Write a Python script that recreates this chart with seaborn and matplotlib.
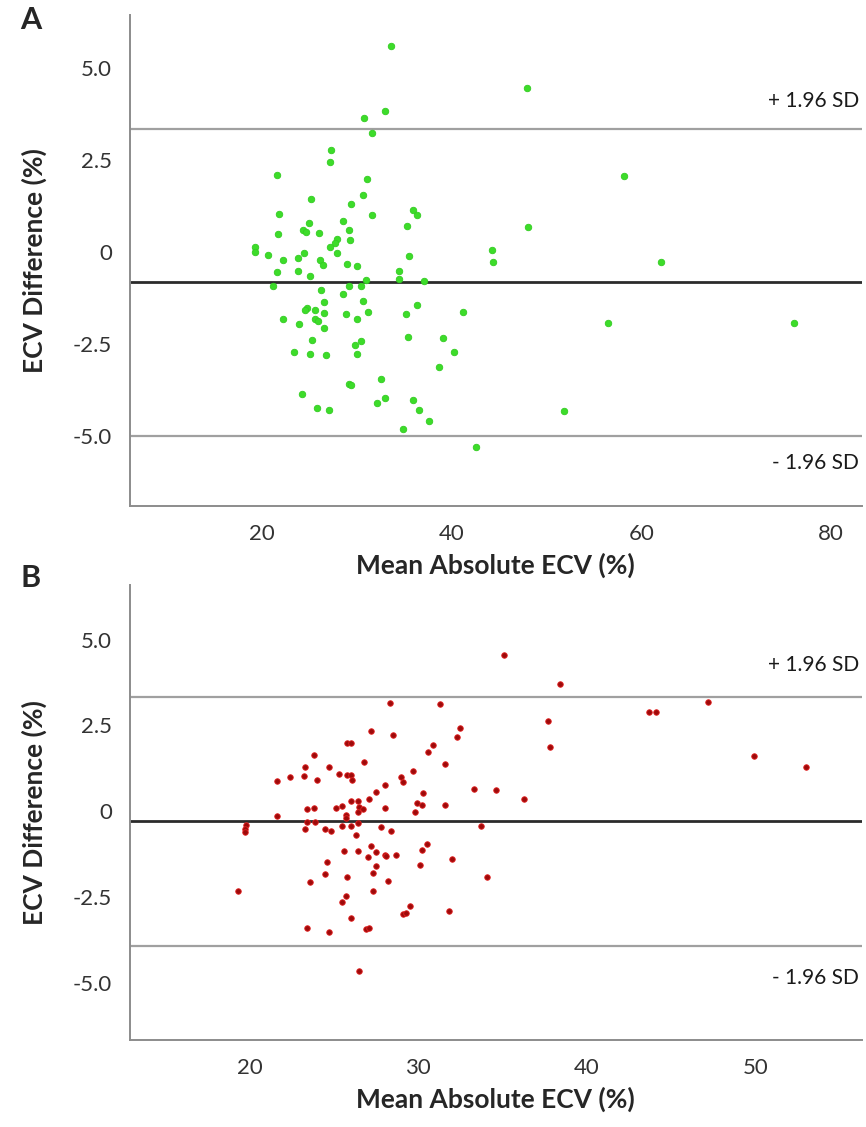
import matplotlib
matplotlib.use("Agg")
import matplotlib.pyplot as plt
import seaborn as sns
import pandas as pd

# Panel A: mean absolute ECV (%) vs ECV difference (%)
a_mean = [33.6, 47.9, 30.8, 33.0, 31.6, 27.3, 27.2, 21.6, 31.1, 58.2, 30.7, 25.2,
          29.4, 31.6, 21.8, 35.9, 36.3, 35.3, 48.0, 25.0, 24.3, 24.7, 26.0, 21.7,
          28.6, 29.2, 29.3, 27.9, 27.7, 27.2, 19.3, 19.3, 20.6, 24.4, 27.9, 35.5,
          44.2, 44.4, 62.1, 22.2, 23.8, 26.1, 26.4, 29.0, 30.0, 21.6, 23.8, 25.1,
          34.4, 34.4, 31.0, 37.1, 21.2, 26.2, 29.2, 30.4, 28.6, 30.7, 26.5, 31.2,
          35.2, 36.3, 24.8, 24.6, 25.6, 26.5, 28.9, 41.2, 22.2, 25.6, 25.9, 30.0,
          23.9, 26.6, 56.5, 76.1, 35.4, 25.3, 30.4, 29.8, 39.1, 23.4, 25.1, 26.8,
          30.0, 40.3, 38.7, 29.2, 29.4, 32.6, 24.2, 25.8, 27.1, 32.1, 33.0, 35.9,
          36.6, 34.9, 37.6, 51.8, 42.6]
a_diff = [5.59, 4.47, 3.64, 3.82, 3.24, 2.78, 2.44, 2.10, 1.99, 2.07, 1.56, 1.44,
          1.31, 1.02, 1.04, 1.13, 1.01, 0.72, 0.68, 0.79, 0.60, 0.54, 0.52, 0.49,
          0.85, 0.60, 0.34, 0.35, 0.25, 0.13, 0.14, 0.01, -0.08, -0.03, -0.03, -0.10,
          0.05, -0.27, -0.27, -0.21, -0.17, -0.21, -0.35, -0.33, -0.37, -0.55, -0.51, -0.65,
          -0.51, -0.74, -0.75, -0.78, -0.92, -1.03, -0.93, -0.93, -1.14, -1.34, -1.37, -1.62,
          -1.69, -1.44, -1.51, -1.57, -1.57, -1.66, -1.67, -1.63, -1.83, -1.81, -1.87, -1.83,
          -1.96, -2.05, -1.93, -1.93, -2.32, -2.39, -2.42, -2.53, -2.34, -2.72, -2.78, -2.81,
          -2.78, -2.72, -3.13, -3.58, -3.60, -3.46, -3.87, -4.25, -4.28, -4.11, -3.96, -4.02,
          -4.30, -4.80, -4.60, -4.33, -5.29]
a_bias, a_upper, a_lower = -0.82, 3.35, -4.99

# Panel B
b_mean = [27.2, 25.8, 26.0, 23.8, 26.8, 23.3, 24.7, 21.6, 22.4, 23.2, 24.0, 25.3,
          25.8, 26.0, 26.1, 27.5, 27.1, 26.0, 26.4, 26.5, 26.7, 26.4, 25.5, 25.1,
          23.8, 23.4, 21.6, 25.7, 25.7, 23.4, 23.9, 19.8, 19.7, 19.7, 23.3, 24.5,
          24.8, 25.5, 26.0, 26.4, 26.3, 25.6, 26.4, 27.2, 27.5, 27.0, 24.6, 27.5,
          24.5, 25.8, 27.3, 23.6, 19.3, 27.3, 25.7, 25.5, 26.0, 23.4, 24.7, 26.9,
          27.1, 26.5, 35.1, 38.4, 28.3, 31.3, 43.7, 44.1, 47.2, 37.7, 28.5, 32.5,
          32.3, 30.9, 30.6, 37.8, 31.6, 49.9, 53.0, 29.7, 29.0, 29.1, 28.0, 30.3,
          33.3, 34.6, 36.3, 28.0, 29.9, 30.2, 29.8, 31.6, 27.8, 28.4, 33.7, 28.0,
          28.1, 28.7, 30.2, 30.5, 32.0, 30.1, 28.2, 34.1, 29.5, 29.1, 29.3, 31.8]
b_diff = [2.35, 1.99, 1.99, 1.65, 1.45, 1.28, 1.29, 0.87, 0.99, 1.03, 0.92, 1.08,
          1.06, 1.06, 0.90, 0.55, 0.37, 0.29, 0.29, 0.14, 0.08, -0.02, 0.16, 0.11,
          0.11, 0.07, -0.13, -0.10, -0.18, -0.31, -0.32, -0.40, -0.51, -0.61, -0.51, -0.51,
          -0.58, -0.42, -0.42, -0.34, -0.70, -1.15, -1.14, -1.02, -1.17, -1.34, -1.47, -1.58,
          -1.82, -1.90, -1.79, -2.06, -2.33, -2.33, -2.45, -2.65, -3.11, -3.38, -3.51, -3.42,
          -3.39, -4.66, 4.55, 3.72, 3.15, 3.13, 2.89, 2.90, 3.18, 2.64, 2.23, 2.42,
          2.16, 1.93, 1.73, 1.88, 1.38, 1.62, 1.29, 1.17, 0.99, 0.84, 0.77, 0.54,
          0.66, 0.62, 0.36, 0.10, 0.25, 0.19, -0.01, 0.18, -0.45, -0.56, -0.44, -1.26,
          -1.29, -1.26, -1.12, -0.95, -1.38, -1.57, -2.04, -1.92, -2.76, -3.00, -2.96, -2.90]
b_bias, b_upper, b_lower = -0.29, 3.32, -3.91

y_ticks = [5.0, 2.5, 0, -2.5, -5.0]
y_tick_labels = ["5.0", "2.5", "0", "-2.5", "-5.0"]
a_xticks = [20, 40, 60, 80]
b_xticks = [20, 30, 40, 50]

sns.set_style("white")
plt.rcParams["font.family"] = ["Lato", "DejaVu Sans"]

fig = plt.figure(figsize=(8.66, 11.27), dpi=100)
ax_a = fig.add_axes([0.150, 0.551, 0.845, 0.436])
ax_b = fig.add_axes([0.150, 0.077, 0.845, 0.404])


def draw_panel(ax, means, diffs, bias, upper, lower, face, edge, size, xticks, xlim, ylim, sd_off):
    df = pd.DataFrame({"mean": means, "diff": diffs})
    sns.scatterplot(data=df, x="mean", y="diff", ax=ax, color=face, edgecolor=edge,
                    linewidth=0.6, s=size, zorder=3)
    ax.axhline(bias, color="#2b2b2b", lw=2.0, zorder=2)
    ax.axhline(upper, color="#a0a0a0", lw=1.6, zorder=2)
    ax.axhline(lower, color="#a0a0a0", lw=1.6, zorder=2)
    ax.annotate("+ 1.96 SD", xy=(1, upper), xycoords=("axes fraction", "data"),
                xytext=(-2, sd_off), textcoords="offset points", ha="right", va="center",
                fontsize=15, color="#1a1a1a")
    ax.annotate("- 1.96 SD", xy=(1, lower), xycoords=("axes fraction", "data"),
                xytext=(-2, -sd_off), textcoords="offset points", ha="right", va="center",
                fontsize=15, color="#1a1a1a")
    ax.set_xlim(*xlim)
    ax.set_ylim(*ylim)
    ax.set_xticks(xticks)
    ax.set_xticklabels([str(t) for t in xticks])
    ax.set_yticks(y_ticks)
    ax.set_yticklabels(y_tick_labels)
    ax.tick_params(axis="both", direction="out", length=5, width=1.2, color="#888888",
                   labelsize=16, labelcolor="#333333", pad=8)
    for side in ["top", "right"]:
        ax.spines[side].set_visible(False)
    for side in ["left", "bottom"]:
        ax.spines[side].set_color("#8c8c8c")
        ax.spines[side].set_linewidth(1.4)
    ax.set_xlabel("Mean Absolute ECV (%)", fontsize=19, fontweight="bold", labelpad=6)
    ax.set_ylabel("ECV Difference (%)", fontsize=19, fontweight="bold")
    ax.yaxis.set_label_coords(-0.113, 0.5)


draw_panel(ax_a, a_mean, a_diff, a_bias, a_upper, a_lower, "#3ddc2a", "#33cc22", 22,
           a_xticks, (6.1, 83.2), (-6.9, 6.45), 20)
draw_panel(ax_b, b_mean, b_diff, b_bias, b_upper, b_lower, "#9e0a0a", "#e32222", 16,
           b_xticks, (12.9, 56.3), (-6.66, 6.59), 23)

fig.text(0.035, 0.982, "A", fontsize=22, fontweight="bold", ha="center", va="center")
fig.text(0.035, 0.487, "B", fontsize=22, fontweight="bold", ha="center", va="center")

fig.savefig("out.png", dpi=100)
